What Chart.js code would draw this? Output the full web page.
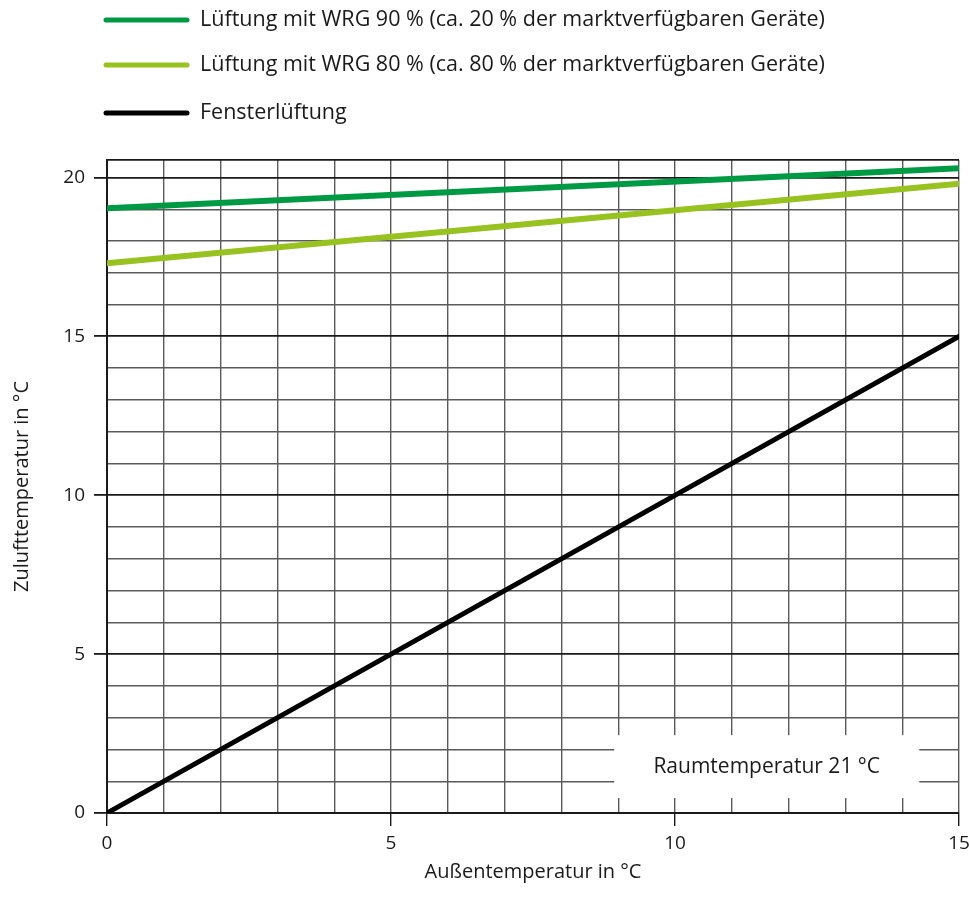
<!DOCTYPE html>
<html>
<head>
<meta charset="utf-8">
<script src="https://cdn.jsdelivr.net/npm/chart.js@4.4.0/dist/chart.umd.min.js"></script>
<style>
html, body { margin: 0; padding: 0; background: #fff; }
#wrap { width: 970px; height: 911px; }
</style>
</head>
<body>
<div id="wrap"><canvas id="chart"></canvas></div>
<script>
// Data
var aussen = [0, 15];
var wrg90 = [19.03, 20.29];
var wrg80 = [17.3, 19.8];
var fenster = [0, 15];
var namen = [
    'Lüftung mit WRG 90 % (ca. 20 % der marktverfügbaren Geräte)',
    'Lüftung mit WRG 80 % (ca. 80 % der marktverfügbaren Geräte)',
    'Fensterlüftung'
];
var farben = ['#009a44', '#97c21f', '#000000'];
var xTickLabels = [0, 5, 10, 15];
var yTickLabels = [0, 5, 10, 15, 20];

var schrift = "'Open Sans', sans-serif";
var dunkel = '#1a1a1a';
var grau = '#5a5a5a';

function punkte(ys) {
    return aussen.map(function (x, i) { return {x: x, y: ys[i]}; });
}

function istMajorY(v) {
    return yTickLabels.indexOf(v) !== -1 || v > 20;
}

// Legende oben
var legendePlugin = {
    id: 'legende',
    afterDraw: function (chart) {
        var ctx = chart.ctx;
        var ys = [20, 65, 113];
        ctx.save();
        chart.data.datasets.forEach(function (ds, i) {
            ctx.strokeStyle = ds.borderColor;
            ctx.lineWidth = 5;
            ctx.lineCap = 'round';
            ctx.beginPath();
            ctx.moveTo(106, ys[i]);
            ctx.lineTo(187, ys[i]);
            ctx.stroke();
            ctx.fillStyle = dunkel;
            ctx.font = '21.5px ' + schrift;
            ctx.textBaseline = 'middle';
            ctx.fillText(ds.label, 200, ys[i]);
        });
        ctx.restore();
    }
};

// Kasten "Raumtemperatur"
var kastenPlugin = {
    id: 'kasten',
    beforeDatasetsDraw: function (chart) {
        var ctx = chart.ctx;
        var x = chart.scales.x, y = chart.scales.y;
        var x1 = x.getPixelForValue(8.93), x2 = x.getPixelForValue(14.3);
        var y1 = y.getPixelForValue(2.45), y2 = y.getPixelForValue(0.47);
        ctx.save();
        ctx.fillStyle = '#fff';
        ctx.fillRect(x1, y1, x2 - x1, y2 - y1);
        ctx.fillStyle = dunkel;
        ctx.font = '21px ' + schrift;
        ctx.textAlign = 'center';
        ctx.textBaseline = 'middle';
        ctx.fillText('Raumtemperatur 21 °C', (x1 + x2) / 2, (y1 + y2) / 2);
        ctx.restore();
    }
};

var data = {
    datasets: [
        {label: namen[0], data: punkte(wrg90), borderColor: farben[0], borderWidth: 6},
        {label: namen[1], data: punkte(wrg80), borderColor: farben[1], borderWidth: 6},
        {label: namen[2], data: punkte(fenster), borderColor: farben[2], borderWidth: 5}
    ]
};

var options = {
    responsive: true,
    maintainAspectRatio: false,
    animation: false,
    layout: {padding: {top: 160, right: 11, left: 0, bottom: 0}},
    elements: {point: {radius: 0}, line: {borderCapStyle: 'round'}},
    plugins: {legend: {display: false}, tooltip: {enabled: false}},
    scales: {
        x: {
            type: 'linear',
            min: 0,
            max: 15,
            afterFit: function (s) {
                s.height = 98;
                s.paddingLeft = 0;
                s.paddingRight = 0;
            },
            ticks: {
                stepSize: 1,
                padding: 6,
                color: dunkel,
                font: {family: schrift, size: 19},
                maxRotation: 0,
                autoSkip: false,
                callback: function (v) { return xTickLabels.indexOf(v) !== -1 ? v : ''; }
            },
            grid: {
                tickLength: 13,
                color: grau,
                lineWidth: 1.4,
                tickColor: function (c) { return xTickLabels.indexOf(c.tick.value) !== -1 ? dunkel : 'rgba(0,0,0,0)'; }
            },
            border: {color: dunkel, width: 2},
            title: {
                display: true,
                text: 'Außentemperatur in °C',
                color: dunkel,
                font: {family: schrift, size: 20},
                padding: {top: 0, bottom: 27}
            }
        },
        y: {
            type: 'linear',
            min: 0,
            max: 20.55,
            afterFit: function (s) { s.width = 107; },
            afterBuildTicks: function (s) {
                var t = [];
                for (var v = 0; v <= 20; v++) t.push({value: v});
                t.push({value: 20.55});
                s.ticks = t;
            },
            ticks: {
                padding: 9,
                color: dunkel,
                font: {family: schrift, size: 19},
                autoSkip: false,
                callback: function (v) { return yTickLabels.indexOf(v) !== -1 ? v : ''; }
            },
            grid: {
                tickLength: 13,
                color: function (c) { return istMajorY(c.tick.value) ? dunkel : grau; },
                lineWidth: function (c) { return istMajorY(c.tick.value) ? 1.8 : 1.4; },
                tickColor: function (c) { return yTickLabels.indexOf(c.tick.value) !== -1 ? dunkel : 'rgba(0,0,0,0)'; }
            },
            border: {color: dunkel, width: 2},
            title: {
                display: true,
                text: 'Zulufttemperatur in °C',
                color: dunkel,
                font: {family: schrift, size: 20},
                padding: {top: 10, bottom: 0}
            }
        }
    }
};

var canvas = document.getElementById('chart');
var ctx = canvas.getContext('2d');
var chart = new Chart(ctx, {
    type: 'line',
    data: data,
    options: options,
    plugins: [kastenPlugin, legendePlugin]
});
</script>
</body>
</html>
